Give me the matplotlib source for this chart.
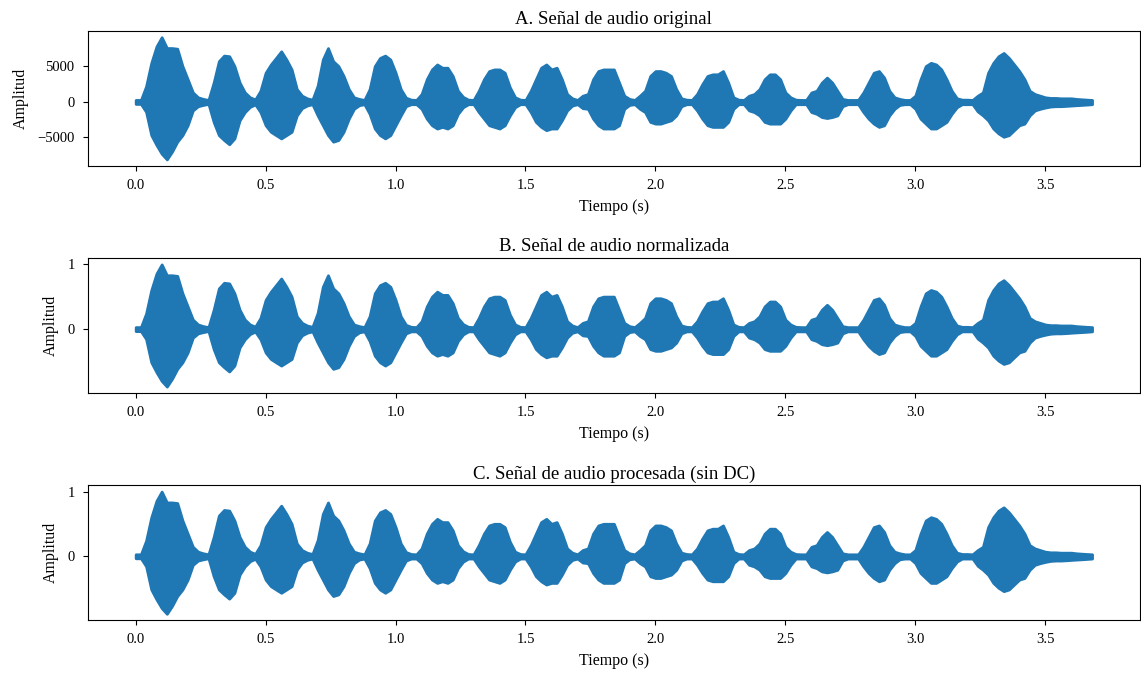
import matplotlib
matplotlib.use("Agg")
import matplotlib.pyplot as plt
import numpy as np

plt.rcParams['font.family'] = ['Liberation Serif', 'DejaVu Serif']

# Envolvente (cada 0.02 s)
tiempo = np.round(np.arange(0, 3.681, 0.02), 2)

env_sup = [280, 280, 2200, 5500, 7820, 9120, 7590, 7590, 7500, 5050,
           3200, 1340, 650, 420, 280, 2730, 5740, 6530, 6440, 5050,
           2730, 1340, 650, 350, 1570, 4120, 5280, 6200, 7130, 5970,
           4580, 1800, 880, 500, 320, 2270, 5970, 7590, 5740, 5050,
           3660, 1800, 650, 420, 280, 1800, 5050, 6200, 6530, 5970,
           4120, 1800, 600, 320, 280, 1110, 3200, 4580, 5280, 4820,
           4820, 3660, 1570, 700, 320, 280, 1570, 3200, 4350, 4580,
           4580, 4120, 2040, 650, 320, 280, 1570, 3200, 4820, 5280,
           4580, 4820, 3200, 1110, 510, 280, 880, 1110, 3200, 4350,
           4580, 4580, 4580, 2730, 880, 420, 280, 880, 1570, 3660,
           4350, 4350, 4120, 3660, 1800, 510, 320, 280, 1110, 2500,
           3660, 3890, 3890, 4350, 2730, 650, 320, 280, 880, 1110,
           1800, 3200, 3890, 3890, 3200, 1340, 650, 320, 280, 280,
           1340, 1570, 2730, 3430, 2730, 1570, 420, 280, 280, 280,
           1340, 2730, 4120, 4350, 3430, 1570, 650, 420, 280, 280,
           880, 3200, 5050, 5510, 5280, 4580, 3200, 1570, 510, 320,
           320, 280, 880, 1340, 4120, 5510, 6440, 6900, 6200, 5280,
           4350, 3200, 1570, 1110, 880, 650, 560, 560, 510, 510,
           510, 420, 370, 320, 280]

env_inf = [-280, -280, -1400, -4680, -6070, -7300, -8100, -6990, -5600, -4680,
           -3290, -1200, -600, -420, -280, -2820, -4680, -5370, -5970, -5140,
           -2590, -1430, -690, -350, -1430, -3290, -4210, -4680, -5140, -4680,
           -4210, -1900, -880, -500, -320, -1900, -3290, -4680, -5600, -5370,
           -4210, -2360, -970, -460, -320, -1670, -3750, -4680, -5140, -4680,
           -3290, -1900, -600, -320, -320, -970, -2360, -3290, -3750, -3520,
           -3750, -3290, -1670, -740, -320, -320, -1430, -2360, -3290, -3520,
           -3750, -3290, -1900, -740, -320, -320, -1430, -2820, -3520, -3980,
           -3750, -3750, -2590, -1200, -510, -320, -880, -970, -2360, -3290,
           -3750, -3750, -3750, -3290, -970, -420, -320, -970, -1430, -2820,
           -3060, -3060, -2820, -2590, -1900, -600, -320, -320, -1200, -2360,
           -3290, -3520, -3520, -3520, -2820, -970, -320, -320, -1200, -1430,
           -1900, -2820, -3060, -3060, -3060, -2360, -1200, -320, -320, -320,
           -1430, -1670, -2130, -2270, -2130, -1900, -600, -320, -320, -320,
           -1430, -2360, -3060, -3520, -3290, -1900, -970, -420, -320, -320,
           -970, -2360, -3060, -3750, -3750, -3290, -2820, -1670, -740, -320,
           -320, -320, -1340, -1900, -2590, -3750, -4440, -4910, -4680, -3980,
           -3290, -3060, -1900, -1200, -970, -790, -650, -600, -600, -560,
           -510, -460, -420, -370, -320]

dc = 0.0  # componente continua practicamente nula

env_sup = np.array(env_sup, dtype=float)
env_inf = np.array(env_inf, dtype=float)

# Normalizacion
pico = np.max(np.abs(np.concatenate([env_sup, env_inf])))
norm_sup = env_sup / pico
norm_inf = env_inf / pico

# Sin DC
proc_sup = norm_sup - dc
proc_inf = norm_inf - dc

color = '#1f77b4'

fig, axs = plt.subplots(3, 1, figsize=(11.41, 6.76), dpi=100)
plt.subplots_adjust(left=0.077, right=0.999, top=0.954, bottom=0.083, hspace=0.69)

series = [(env_sup, env_inf, 'A. Señal de audio original', [-5000, 0, 5000]),
          (norm_sup, norm_inf, 'B. Señal de audio normalizada', [0, 1]),
          (proc_sup, proc_inf, 'C. Señal de audio procesada (sin DC)', [0, 1])]

for ax, (sup, inf, titulo, yt) in zip(axs, series):
    ax.fill_between(tiempo, inf, sup, color=color, linewidth=2.0, edgecolor=color)
    ax.set_title(titulo, fontsize=13.5, pad=5)
    ax.set_xlabel('Tiempo (s)', fontsize=11.5, labelpad=5)
    ax.set_ylabel('Amplitud', fontsize=11.5, labelpad=6)
    ax.set_xticks(np.arange(0, 3.51, 0.5))
    ax.set_yticks(yt)
    ax.tick_params(labelsize=10.5, pad=6)
    ax.set_xlim(-0.184, 3.864)
    margen = (sup.max() - inf.min()) * 0.05
    ax.set_ylim(inf.min() - margen, sup.max() + margen)

plt.savefig('out.png', dpi=100)
